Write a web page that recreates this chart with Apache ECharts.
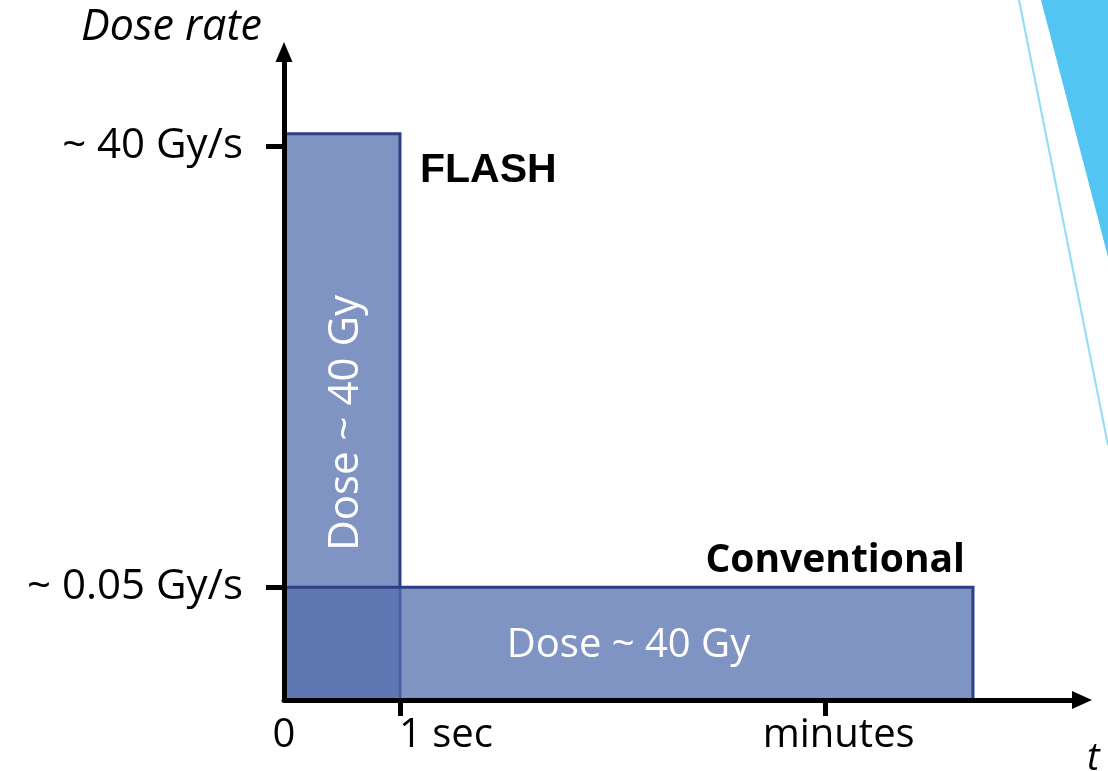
<!DOCTYPE html>
<html><head><meta charset="utf-8">
<script src="https://cdn.jsdelivr.net/npm/echarts@6/dist/echarts.min.js"></script>
<style>html,body{margin:0;padding:0;background:#fff}#c{width:1108px;height:771px}</style>
</head><body><div id="c"></div>
<script>
// ---- data (schematic units) ----
const categories = ['FLASH', 'Conventional'];
const durations = [1, 5.94];
const doseRates = [40.9, 8.15];
const doseLabels = ['Dose ~ 40 Gy', 'Dose ~ 40 Gy'];
const xTickValues = [0, 1, 4.67];
const xTickLabels = ['0', '1 sec', 'minutes'];
const yTickValues = [8.15, 40];
const yTickLabels = ['~ 0.05 Gy/s', '~ 40 Gy/s'];
const X_MAX = 6.88, Y_MAX = 46.8;

const FONT = "'Open Sans', 'Noto Sans', sans-serif";
const fillColor = 'rgba(83,110,174,0.74)';
const strokeColor = '#2e3f85';

// style config per category (not data)
const nameStyles = {
  'FLASH': { rot: Math.PI / 2, ldx: 4, ldy: 6, lsize: 42, font: "bold 41px 'Liberation Sans', Arial, sans-serif", align: 'left', dx: 20, dyTop: 37 },
  'Conventional': { rot: 0, ldx: 0, ldy: 2, lsize: 40, font: "bold 39px " + FONT, align: 'right', dx: -8, dyTop: -26 }
};

const chart = echarts.init(document.getElementById('c'), null, { renderer: 'canvas' });

const labelRich = {
  a: { fontSize: 40, fontFamily: FONT, color: '#000' },
  b: { fontSize: 40, fontFamily: FONT, color: '#000', padding: [0, 0, 0, 92] },
  c: { fontSize: 40, fontFamily: FONT, color: '#000', padding: [0, 0, 0, 26] }
};
const xLabelKey = ['a', 'b', 'c'];

chart.setOption({
  backgroundColor: '#fff',
  animation: false,
  grid: { left: 284, right: 26, top: 52, bottom: 71, containLabel: false, outerBoundsMode: 'none' },
  xAxis: {
    type: 'value', min: 0, max: X_MAX, z: 5,
    splitLine: { show: false },
    axisLine: { show: true, onZero: false, symbol: ['none', 'triangle'], symbolSize: [18, 20],
      lineStyle: { color: '#000', width: 5 } },
    axisTick: { show: true, customValues: xTickValues.slice(1), length: 16, lineStyle: { color: '#000', width: 5 } },
    axisLabel: {
      show: true, customValues: xTickValues, margin: 16,
      formatter: function (v) {
        const i = xTickValues.indexOf(v);
        return i < 0 ? '' : '{' + xLabelKey[i] + '|' + xTickLabels[i] + '}';
      },
      rich: labelRich
    },
    name: 't', nameLocation: 'end', nameGap: 5,
    nameTextStyle: { fontStyle: 'italic', fontSize: 38, fontFamily: FONT, color: '#000', align: 'left', verticalAlign: 'top', padding: [40, 0, 0, 0] }
  },
  yAxis: {
    type: 'value', min: 0, max: Y_MAX, z: 5,
    splitLine: { show: false },
    axisLine: { show: true, onZero: false, symbol: ['none', 'triangle'], symbolSize: [17, 20],
      lineStyle: { color: '#000', width: 5 } },
    axisTick: { show: true, customValues: yTickValues, length: 18, lineStyle: { color: '#000', width: 5 } },
    axisLabel: {
      show: true, customValues: yTickValues, margin: 41,
      fontSize: 42, fontFamily: FONT, color: '#000', padding: [14, 0, 0, 0],
      formatter: function (v) {
        const i = yTickValues.indexOf(v);
        return i < 0 ? '' : yTickLabels[i];
      }
    },
    name: 'Dose rate', nameLocation: 'end', nameGap: 24,
    nameTextStyle: { fontStyle: 'italic', fontSize: 43, fontFamily: FONT, color: '#000', align: 'right', verticalAlign: 'middle', padding: [0, 22, 0, 0] }
  },
  graphic: [
    { type: 'polygon', z: 0, shape: { points: [[1041, 0], [1108, 0], [1108, 257]] }, style: { fill: '#52c5f2' } },
    { type: 'line', z: 0, shape: { x1: 1019, y1: 0, x2: 1108, y2: 445 }, style: { stroke: '#8edcf5', lineWidth: 2 } }
  ],
  series: [{
    type: 'custom', z: 1,
    data: categories.map((c, i) => [durations[i], doseRates[i]]),
    renderItem: function (params, api) {
      const i = params.dataIndex;
      const p0 = api.coord([0, 0]);
      const p1 = api.coord([api.value(0), api.value(1)]);
      const x = p0[0], y = p1[1], w = p1[0] - p0[0], h = p0[1] - p1[1];
      const ns = nameStyles[categories[i]];
      return {
        type: 'group',
        children: [
          { type: 'rect', shape: { x: x, y: y, width: w, height: h },
            style: { fill: fillColor, stroke: strokeColor, lineWidth: 3 } },
          { type: 'text', x: x + w / 2 + ns.ldx, y: y + h / 2 + ns.ldy, rotation: ns.rot,
            style: { text: doseLabels[i], fill: '#fff', font: ns.lsize + 'px ' + FONT, align: 'center', verticalAlign: 'middle' } },
          { type: 'text', x: x + w + ns.dx, y: y + ns.dyTop,
            style: { text: categories[i], fill: '#000', font: ns.font, align: ns.align, verticalAlign: 'middle' } }
        ]
      };
    }
  }]
});
</script>
</body></html>
